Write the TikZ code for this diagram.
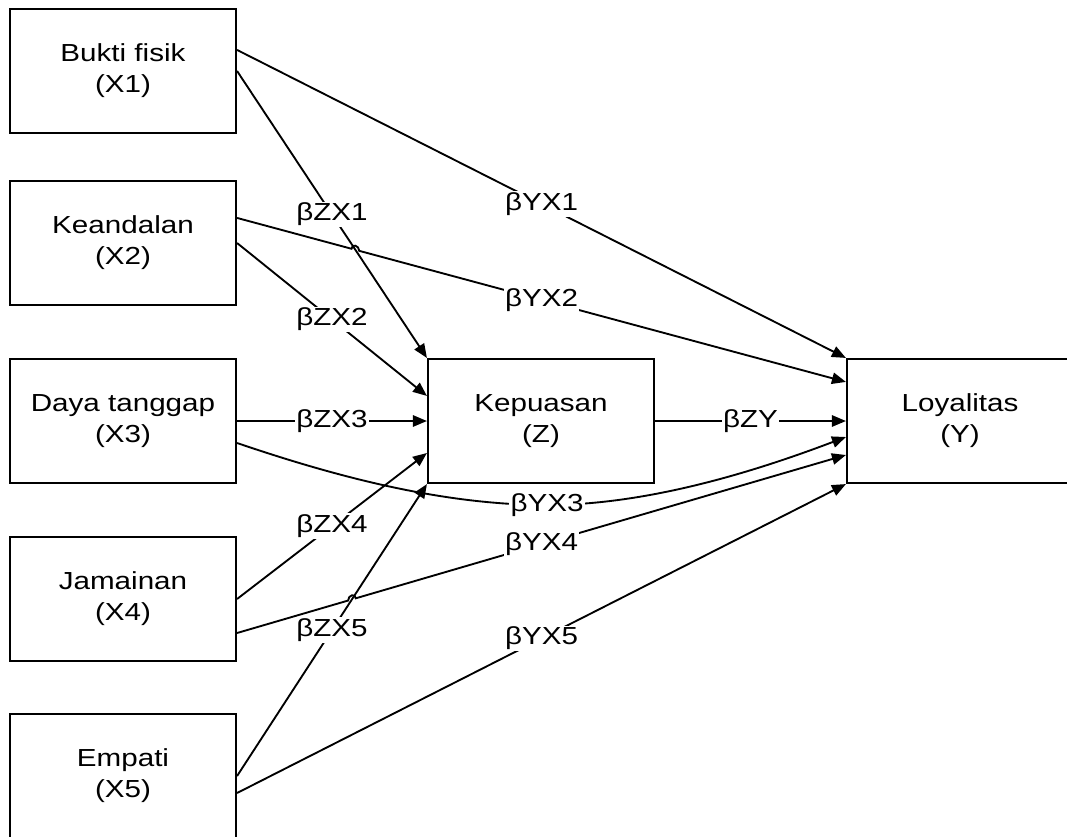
\documentclass[tikz,border=0pt]{standalone}
\usepackage{fontspec}
\newfontfamily\diagfont[FakeStretch=1.2]{Liberation Sans}
\usetikzlibrary{arrows.meta,calc,intersections}
\begin{document}
\begin{tikzpicture}[x=0.75pt,y=-0.75pt,
  every node/.style={font=\diagfont\fontsize{18.5}{23.3}\selectfont},
  varbox/.style={draw, line width=1.6pt, minimum width=169.5pt, minimum height=93pt,
                 align=center, inner sep=0pt},
  link/.style={line width=1.4pt, -{Triangle[length=10.5pt,width=8.5pt]}},
  coef/.style={fill=white, inner sep=1pt}]
\useasboundingbox (0,0) rectangle (1067,836);
\clip (0,0) rectangle (1067,836);

% variables
\node[varbox] (x1) at (123,71)  {Bukti fisik\\(X1)};
\node[varbox] (x2) at (123,243) {Keandalan\\(X2)};
\node[varbox] (x3) at (123,421) {Daya tanggap\\(X3)};
\node[varbox] (x4) at (123,599) {Jamainan\\(X4)};
\node[varbox] (x5) at (123,776) {Empati\\(X5)};
\node[varbox] (kp) at (541,421) {Kepuasan\\(Z)};
\node[varbox] (ly) at (960,421) {Loyalitas\\(Y)};

% attachment points
\coordinate (s1a) at ($(x1.north east)+(0,42)$);
\coordinate (s2a) at ($(x2.north east)+(0,38)$);
\coordinate (s3b) at ($(x3.east)+(0,22)$);
\coordinate (s4b) at ($(x4.east)+(0,34)$);
\coordinate (s5b) at ($(x5.east)+(0,17)$);
\coordinate (t2) at ($(kp.north west)+(0,38)$);
\coordinate (t4) at ($(kp.west)+(0,32)$);
\coordinate (u2) at ($(ly.north west)+(0,24)$);
\coordinate (u3) at ($(ly.west)+(0,16)$);
\coordinate (u4) at ($(ly.west)+(0,34)$);
\coordinate (m3) at (547,505);

% crossing points for the line hops
\path[name path=pzx1] (x1.east) -- (kp.north west);
\path[name path=pyx2] (s2a) -- (u2);
\path[name intersections={of=pzx1 and pyx2, by=h1}];
\path[name path=pzx5] (x5.east) -- (kp.south west);
\path[name path=pyx4] (s4b) -- (u4);
\path[name intersections={of=pzx5 and pyx4, by=h2}];

% paths
\draw[link] (s1a) -- (ly.north west);
\draw[link] (x1.east) -- (kp.north west);
\draw[link] (s2a) -- ($(h1)!3pt!(s2a)$) .. controls +(0,-5.5) and +(0,-5.5) .. ($(h1)!3pt!(u2)$) -- (u2);
\draw[link] (x2.east) -- (t2);
\draw[link] (x3.east) -- (kp.west);
\draw[link] (s3b) .. controls +(94,32) and +(-107,0) .. (m3) .. controls +(103,0) and +(-87,33) .. (u3);
\draw[link] (x4.east) -- (t4);
\draw[link] (s4b) -- ($(h2)!3pt!(s4b)$) .. controls +(0,-5.5) and +(0,-5.5) .. ($(h2)!3pt!(u4)$) -- (u4);
\draw[link] (x5.east) -- (kp.south west);
\draw[link] (s5b) -- (ly.south west);
\draw[link] (kp.east) -- (ly.west);

% path coefficients
\node[coef] at ($(x1.east)!0.5!(kp.north west)$) {βZX1};
\node[coef] at ($(s1a)!0.5!(ly.north west)$) {βYX1};
\node[coef] at ($(x2.east)!0.5!(t2)$) {βZX2};
\node[coef] at ($(s2a)!0.5!(u2)$) {βYX2};
\node[coef] at ($(x3.east)!0.5!(kp.west)$) {βZX3};
\node[coef] at (m3) {βYX3};
\node[coef] at ($(x4.east)!0.5!(t4)$) {βZX4};
\node[coef] at ($(s4b)!0.5!(u4)$) {βYX4};
\node[coef] at ($(x5.east)!0.5!(kp.south west)$) {βZX5};
\node[coef] at ($(s5b)!0.5!(ly.south west)$) {βYX5};
\node[coef] at ($(kp.east)!0.5!(ly.west)$) {βZY};
\end{tikzpicture}
\end{document}
